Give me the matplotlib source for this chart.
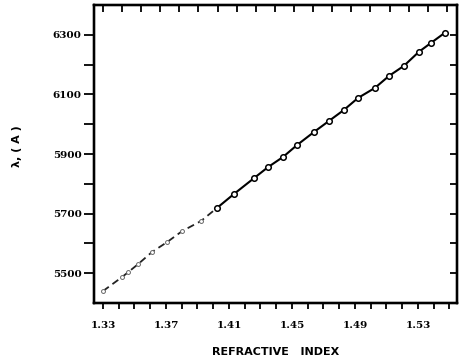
import matplotlib
matplotlib.use("Agg")
import matplotlib.pyplot as plt
import numpy as np

# Data
refractive_index = [1.3300, 1.3421, 1.3459, 1.3522, 1.3611, 1.3706, 1.3802, 1.3922,
                    1.4024, 1.4132, 1.4259, 1.4348, 1.4443, 1.4532, 1.4640, 1.4735,
                    1.4830, 1.4919, 1.5027, 1.5116, 1.5211, 1.5306, 1.5383, 1.5471]
wavelength = [5440, 5487, 5503, 5530, 5571, 5604, 5641, 5675,
              5719, 5766, 5819, 5856, 5890, 5930, 5974, 6011,
              6048, 6088, 6122, 6162, 6196, 6243, 6273, 6307]

x_major = [1.33, 1.37, 1.41, 1.45, 1.49, 1.53]
x_labels = ["1.33", "1.37", "1.41", "1.45", "1.49", "1.53"]
y_major = [5500, 5700, 5900, 6100, 6300]
y_labels = ["5500", "5700", "5900", "6100", "6300"]

XLIM = (1.3243, 1.5548)
YLIM = (5400, 6400)

fig = plt.figure(figsize=(4.59, 3.62), dpi=100)
ax = fig.add_axes([0.2048, 0.163, 0.7908, 0.823])

x = np.array(refractive_index)
y = np.array(wavelength)
n_faint = 8  # lower part of the curve (faded in the scan)
ax.plot(x[:n_faint + 1], y[:n_faint + 1], color="#222222", lw=1.3, ls=(0, (4, 2.5)))
ax.plot(x[n_faint:], y[n_faint:], color="black", lw=1.5)
ax.plot(x[:n_faint], y[:n_faint], ls="none", marker="o", ms=2.8, mfc="white",
        mec="#666666", mew=0.7)
ax.plot(x[n_faint:], y[n_faint:], ls="none", marker="o", ms=4, mfc="white",
        mec="black", mew=1.1, zorder=3)

ax.set_xlim(*XLIM)
ax.set_ylim(*YLIM)

ax.set_xticks(x_major)
ax.set_xticklabels(x_labels)
ax.set_xticks(np.arange(1.33, 1.555, 0.01), minor=True)
ax.set_yticks(y_major)
ax.set_yticklabels(y_labels)
ax.set_yticks(np.arange(5500, 6400, 100), minor=True)

for lbl in ax.get_xticklabels() + ax.get_yticklabels():
    lbl.set_fontfamily("DejaVu Serif")
    lbl.set_fontweight("bold")
    lbl.set_fontsize(7.5)

ax.tick_params(axis="x", which="both", direction="out", length=4, width=1.3,
               pad=9, bottom=True, top=False)
ax.tick_params(axis="y", which="both", direction="out", length=7, width=1.3,
               pad=2, left=True, right=False)

# top ticks inward (separate spacing on the top axis)
axt = ax.twiny()
axt.set_xlim(*XLIM)
axt.set_xticks([1.33 + k * 0.01213 for k in range(19)])
axt.tick_params(axis="x", direction="in", length=5, width=1.3,
                labeltop=False, top=True, bottom=False)

# right ticks inward
axr = ax.twinx()
axr.set_ylim(*YLIM)
axr.set_yticks(list(np.arange(5500, 6400, 100)))
axr.tick_params(axis="y", direction="in", length=5, width=1.3,
                labelright=False, right=True, left=False)

for a in (ax, axt, axr):
    for s in a.spines.values():
        s.set_linewidth(1.6)

fig.text(0.60, 0.028, "REFRACTIVE   INDEX", ha="center", va="center",
         fontsize=8, fontweight="bold", family="DejaVu Sans")
fig.text(0.037, 0.595, "λ, ( A )", ha="center", va="center", rotation=90,
         fontsize=8, fontweight="bold", family="DejaVu Sans")

fig.savefig("out.png", dpi=100)
